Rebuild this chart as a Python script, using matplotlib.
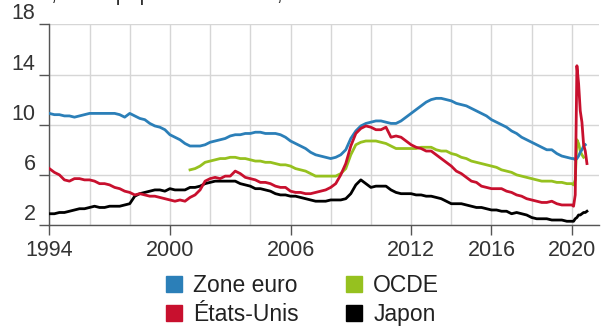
import matplotlib
matplotlib.use("Agg")
import matplotlib.pyplot as plt
from matplotlib.lines import Line2D
import numpy as np

plt.rcParams['font.family'] = ['Liberation Sans', 'DejaVu Sans']

# quarterly points 1994 Q1 .. 2019 Q4, then monthly points for 2020
quarters = np.arange(1994, 2020, 0.25)
quarters_oecd = np.arange(2001, 2020, 0.25)
months_2020 = 2020 + np.arange(10) / 12

zone_euro_q = [10.9, 10.8, 10.8, 10.7, 10.7, 10.6, 10.7, 10.8,
               10.9, 10.9, 10.9, 10.9, 10.9, 10.9, 10.8, 10.6,
               10.9, 10.7, 10.5, 10.4, 10.1, 9.9, 9.8, 9.6,
               9.2, 9.0, 8.8, 8.5, 8.3, 8.3, 8.3, 8.4,
               8.6, 8.7, 8.8, 8.9, 9.1, 9.2, 9.2, 9.3,
               9.3, 9.4, 9.4, 9.3, 9.3, 9.3, 9.2, 9.0,
               8.7, 8.5, 8.3, 8.1, 7.8, 7.6, 7.5, 7.4,
               7.3, 7.4, 7.6, 8.0, 8.9, 9.5, 9.9, 10.1,
               10.2, 10.3, 10.3, 10.2, 10.1, 10.1, 10.3, 10.6,
               10.9, 11.2, 11.5, 11.8, 12.0, 12.1, 12.1, 12.0,
               11.9, 11.7, 11.6, 11.5, 11.3, 11.1, 10.9, 10.7,
               10.4, 10.2, 10.0, 9.8, 9.5, 9.3, 9.0, 8.8,
               8.6, 8.4, 8.2, 8.0, 8.0, 7.7, 7.5, 7.4]
zone_euro_2020 = [7.3, 7.3, 7.2, 7.3, 7.5, 7.8, 8.0, 8.3, 8.4]

etats_unis_q = [6.5, 6.2, 6.0, 5.6, 5.5, 5.7, 5.7, 5.6,
                5.6, 5.5, 5.3, 5.3, 5.2, 5.0, 4.9, 4.7,
                4.6, 4.4, 4.5, 4.4, 4.3, 4.3, 4.2, 4.1,
                4.0, 3.9, 4.0, 3.9, 4.2, 4.4, 4.8, 5.5,
                5.7, 5.8, 5.7, 5.9, 5.9, 6.3, 6.1, 5.8,
                5.7, 5.6, 5.4, 5.4, 5.3, 5.1, 5.0, 5.0,
                4.7, 4.6, 4.6, 4.5, 4.5, 4.6, 4.7, 4.8,
                5.0, 5.3, 6.0, 6.9, 8.3, 9.3, 9.7, 9.9,
                9.8, 9.6, 9.6, 9.8, 9.0, 9.1, 9.0, 8.7,
                8.4, 8.2, 8.1, 7.9, 7.9, 7.6, 7.3, 7.0,
                6.7, 6.3, 6.1, 5.8, 5.5, 5.4, 5.1, 5.0,
                4.9, 4.9, 4.9, 4.7, 4.6, 4.4, 4.3, 4.1,
                4.0, 3.9, 3.8, 3.8, 3.9, 3.7, 3.6, 3.6]
etats_unis_2020 = [3.6, 3.5, 4.4, 14.7, 13.3, 11.1, 10.2, 8.4, 7.9, 6.9]

ocde_q = [6.4, 6.5, 6.7, 7.0, 7.1, 7.2, 7.3, 7.3,
          7.4, 7.4, 7.3, 7.3, 7.2, 7.1, 7.1, 7.0,
          7.0, 6.9, 6.8, 6.8, 6.7, 6.5, 6.4, 6.3,
          6.1, 5.9, 5.9, 5.9, 5.9, 5.9, 6.1, 6.5,
          7.6, 8.4, 8.6, 8.7, 8.7, 8.7, 8.6, 8.5,
          8.3, 8.1, 8.1, 8.1, 8.1, 8.1, 8.2, 8.2,
          8.2, 8.0, 7.9, 7.9, 7.7, 7.6, 7.4, 7.3,
          7.1, 7.0, 6.9, 6.8, 6.7, 6.6, 6.4, 6.3,
          6.2, 6.0, 5.9, 5.8, 5.7, 5.6, 5.5, 5.5,
          5.5, 5.4, 5.4, 5.3]
ocde_2020 = [5.3, 5.2, 5.6, 8.8, 8.5, 7.9, 7.6, 7.4]

japon_q = [2.9, 2.9, 3.0, 3.0, 3.1, 3.2, 3.3, 3.3,
           3.4, 3.5, 3.4, 3.4, 3.5, 3.5, 3.5, 3.6,
           3.7, 4.3, 4.5, 4.6, 4.7, 4.8, 4.8, 4.7,
           4.9, 4.8, 4.8, 4.8, 5.0, 5.0, 5.1, 5.3,
           5.4, 5.5, 5.5, 5.5, 5.5, 5.5, 5.3, 5.2,
           5.1, 4.9, 4.9, 4.8, 4.7, 4.5, 4.4, 4.4,
           4.3, 4.3, 4.2, 4.1, 4.0, 3.9, 3.9, 3.9,
           4.0, 4.0, 4.0, 4.1, 4.5, 5.2, 5.6, 5.3,
           5.0, 5.1, 5.1, 5.1, 4.8, 4.6, 4.5, 4.5,
           4.5, 4.4, 4.4, 4.3, 4.3, 4.2, 4.1, 3.9,
           3.7, 3.7, 3.7, 3.6, 3.5, 3.4, 3.4, 3.3,
           3.2, 3.2, 3.1, 3.1, 2.9, 3.0, 2.9, 2.8,
           2.6, 2.5, 2.5, 2.5, 2.4, 2.4, 2.4, 2.3]
japon_2020 = [2.3, 2.3, 2.5, 2.6, 2.8, 2.8, 2.9, 3.0, 3.0, 3.1]

series_names = ['Zone euro', 'États-Unis', 'OCDE', 'Japon']
colors = ['#2b7fb8', '#c8102e', '#96c11f', '#000000']

fig = plt.figure(figsize=(6.09, 3.29), dpi=100)
ax = fig.add_axes([0.081, 0.316, 0.9026, 0.610])

def both(q_years, q_vals, vals_2020):
    x = np.concatenate([q_years, months_2020[:len(vals_2020)]])
    y = np.concatenate([q_vals, vals_2020])
    return x, y

lines = [
    both(quarters, zone_euro_q, zone_euro_2020),
    both(quarters, etats_unis_q, etats_unis_2020),
    both(quarters_oecd, ocde_q, ocde_2020),
    both(quarters, japon_q, japon_2020),
]
# draw order: OCDE and Japon below, euro and US on top
for i in [3, 2, 0, 1]:
    x, y = lines[i]
    ax.plot(x, y, color=colors[i], lw=2.0, solid_joinstyle='round', zorder=3)

ax.set_xlim(1994, 2021.35)
ax.set_ylim(2, 18)
ax.set_yticks([2, 6, 10, 14, 18])
ax.set_xticks([1994, 2000, 2006, 2012, 2016, 2020])
ax.set_xticks(np.arange(1994, 2021, 2), minor=True)

ax.grid(True, which='both', color='#d6d6d6', lw=1.0)
ax.set_axisbelow(True)
for s in ['top', 'right']:
    ax.spines[s].set_visible(False)
for s in ['left', 'bottom']:
    ax.spines[s].set_color('#555555')
    ax.spines[s].set_linewidth(1.0)

ax.tick_params(axis='x', which='major', length=7, width=1, color='#555555',
               labelsize=15.5, labelcolor='#333333', pad=4)
ax.tick_params(axis='x', which='minor', length=0)
ax.tick_params(axis='y', length=7, width=1, color='#555555',
               labelsize=15.5, labelcolor='#333333', pad=3)
for lab in ax.get_yticklabels():
    lab.set_verticalalignment('bottom')

fig.text(0.0, 1.0, 'En %, de la population active, données mensuelles',
         fontsize=15.5, color='#333333', va='baseline', ha='left')

handles = [Line2D([], [], color=c, marker='s', linestyle='none', markersize=11)
           for c in colors]
fig.legend(handles, series_names, ncol=2, loc='center left',
           bbox_to_anchor=(0.27, 0.088), frameon=False, fontsize=16.5,
           labelcolor='#222222', handlelength=0.8, handletextpad=0.45,
           columnspacing=2.0, labelspacing=0.3, borderaxespad=0,
           borderpad=0)

fig.savefig('out.png', dpi=100)
